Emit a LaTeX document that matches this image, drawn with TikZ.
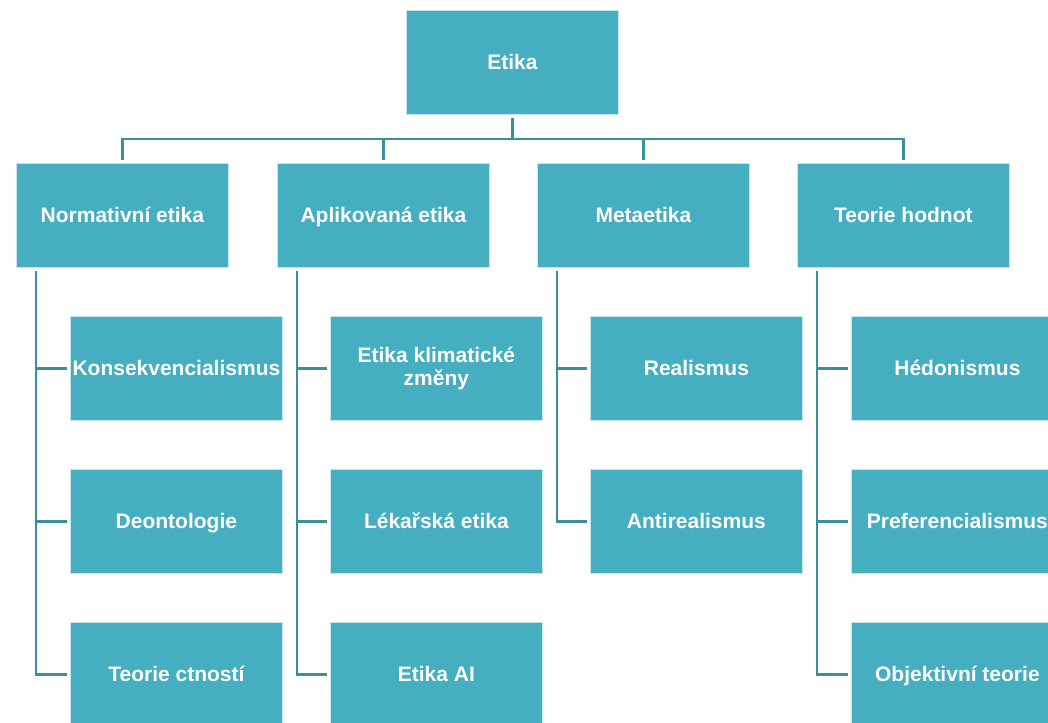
\documentclass[tikz,border=0pt]{standalone}
\usepackage{fontspec}
\setmainfont{Liberation Sans}
\definecolor{boxfill}{HTML}{45AEC0}
\definecolor{linecol}{HTML}{3A8F9D}
\begin{document}
\begin{tikzpicture}[x=1pt,y=-1pt,
  box/.style={fill=boxfill, draw=white!70!boxfill, line width=0.8pt,
    minimum width=212pt, minimum height=104pt, anchor=north west,
    inner sep=0pt, text=white, font=\fontsize{21}{24}\selectfont\bfseries, align=center},
  onebox/.style={box, text height=16.5pt, text depth=2.5pt},
  conn/.style={draw=linecol, line width=2.2pt, shorten <=3pt, shorten >=3pt}]
\useasboundingbox (0,0) rectangle (1048,722);
\clip (0,0) rectangle (1048,722);
\node[onebox] (etika) at (406,10) {Etika};
\node[onebox] (n1) at (16,163) {Normativní etika};
\node[onebox] (n2) at (277,163) {Aplikovaná etika};
\node[onebox] (n3) at (537,163) {Metaetika};
\node[onebox] (n4) at (797,163) {Teorie hodnot};
\node[onebox] (c11) at (70,316) {Konsekvencialismus};
\node[onebox] (c12) at (70,469) {Deontologie};
\node[onebox] (c13) at (70,622) {Teorie ctností};
\node[box] (c21) at (330,316) {Etika klimatické\\[-1pt]změny};
\node[onebox] (c22) at (330,469) {Lékařská etika};
\node[onebox] (c23) at (330,622) {Etika AI};
\node[onebox] (c31) at (590,316) {Realismus};
\node[onebox] (c32) at (590,469) {Antirealismus};
\node[onebox] (c41) at (851,316) {Hédonismus};
\node[onebox] (c42) at (851,469) {Preferencialismus};
\node[onebox] (c43) at (851,622) {Objektivní teorie};
\foreach \n in {n1,n2,n3,n4}
  \draw[conn] (etika.south) -- ++(0,24) -| (\n.north);
\foreach \p/\c in {n1/c11,n1/c12,n1/c13,n2/c21,n2/c22,n2/c23,n3/c31,n3/c32,n4/c41,n4/c42,n4/c43}
  \draw[conn] ([xshift=20pt]\p.south west) |- (\c.west);
\end{tikzpicture}
\end{document}
